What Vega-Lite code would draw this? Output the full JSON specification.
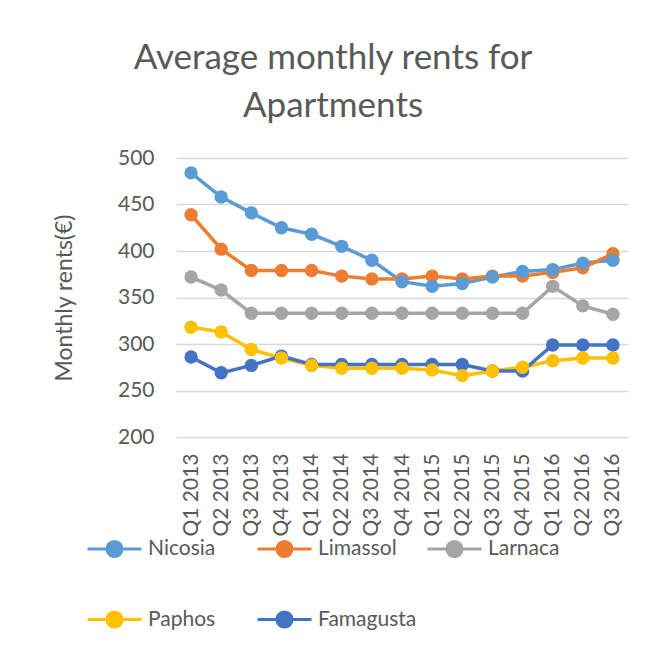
{
  "$schema": "https://vega.github.io/schema/vega-lite/v6.json",
  "autosize": "none",
  "width": 452,
  "height": 279,
  "padding": {"left": 176, "top": 158, "right": 17, "bottom": 208},
  "background": "white",
  "config": {"view": {"stroke": null}},
  "title": {
    "text": ["Average monthly rents for", "Apartments"],
    "fontSize": 35,
    "font": "Lato",
    "fontWeight": "normal",
    "color": "#595959",
    "lineHeight": 48,
    "anchor": "middle",
    "dx": -69,
    "offset": 23
  },
  "data": {
    "values": [
      {"q": "Q1 2013", "city": "Nicosia", "rent": 484},
      {"q": "Q2 2013", "city": "Nicosia", "rent": 458},
      {"q": "Q3 2013", "city": "Nicosia", "rent": 441},
      {"q": "Q4 2013", "city": "Nicosia", "rent": 425},
      {"q": "Q1 2014", "city": "Nicosia", "rent": 418},
      {"q": "Q2 2014", "city": "Nicosia", "rent": 405},
      {"q": "Q3 2014", "city": "Nicosia", "rent": 390},
      {"q": "Q4 2014", "city": "Nicosia", "rent": 367},
      {"q": "Q1 2015", "city": "Nicosia", "rent": 362},
      {"q": "Q2 2015", "city": "Nicosia", "rent": 365},
      {"q": "Q3 2015", "city": "Nicosia", "rent": 372},
      {"q": "Q4 2015", "city": "Nicosia", "rent": 378},
      {"q": "Q1 2016", "city": "Nicosia", "rent": 380},
      {"q": "Q2 2016", "city": "Nicosia", "rent": 387},
      {"q": "Q3 2016", "city": "Nicosia", "rent": 390},
      {"q": "Q1 2013", "city": "Limassol", "rent": 439},
      {"q": "Q2 2013", "city": "Limassol", "rent": 402},
      {"q": "Q3 2013", "city": "Limassol", "rent": 379},
      {"q": "Q4 2013", "city": "Limassol", "rent": 379},
      {"q": "Q1 2014", "city": "Limassol", "rent": 379},
      {"q": "Q2 2014", "city": "Limassol", "rent": 373},
      {"q": "Q3 2014", "city": "Limassol", "rent": 370},
      {"q": "Q4 2014", "city": "Limassol", "rent": 370},
      {"q": "Q1 2015", "city": "Limassol", "rent": 373},
      {"q": "Q2 2015", "city": "Limassol", "rent": 370},
      {"q": "Q3 2015", "city": "Limassol", "rent": 373},
      {"q": "Q4 2015", "city": "Limassol", "rent": 373},
      {"q": "Q1 2016", "city": "Limassol", "rent": 377},
      {"q": "Q2 2016", "city": "Limassol", "rent": 382},
      {"q": "Q3 2016", "city": "Limassol", "rent": 397},
      {"q": "Q1 2013", "city": "Larnaca", "rent": 372},
      {"q": "Q2 2013", "city": "Larnaca", "rent": 358},
      {"q": "Q3 2013", "city": "Larnaca", "rent": 333},
      {"q": "Q4 2013", "city": "Larnaca", "rent": 333},
      {"q": "Q1 2014", "city": "Larnaca", "rent": 333},
      {"q": "Q2 2014", "city": "Larnaca", "rent": 333},
      {"q": "Q3 2014", "city": "Larnaca", "rent": 333},
      {"q": "Q4 2014", "city": "Larnaca", "rent": 333},
      {"q": "Q1 2015", "city": "Larnaca", "rent": 333},
      {"q": "Q2 2015", "city": "Larnaca", "rent": 333},
      {"q": "Q3 2015", "city": "Larnaca", "rent": 333},
      {"q": "Q4 2015", "city": "Larnaca", "rent": 333},
      {"q": "Q1 2016", "city": "Larnaca", "rent": 362},
      {"q": "Q2 2016", "city": "Larnaca", "rent": 341},
      {"q": "Q3 2016", "city": "Larnaca", "rent": 332},
      {"q": "Q1 2013", "city": "Paphos", "rent": 318},
      {"q": "Q2 2013", "city": "Paphos", "rent": 313},
      {"q": "Q3 2013", "city": "Paphos", "rent": 294},
      {"q": "Q4 2013", "city": "Paphos", "rent": 285},
      {"q": "Q1 2014", "city": "Paphos", "rent": 277},
      {"q": "Q2 2014", "city": "Paphos", "rent": 274},
      {"q": "Q3 2014", "city": "Paphos", "rent": 274},
      {"q": "Q4 2014", "city": "Paphos", "rent": 274},
      {"q": "Q1 2015", "city": "Paphos", "rent": 272},
      {"q": "Q2 2015", "city": "Paphos", "rent": 266},
      {"q": "Q3 2015", "city": "Paphos", "rent": 271},
      {"q": "Q4 2015", "city": "Paphos", "rent": 275},
      {"q": "Q1 2016", "city": "Paphos", "rent": 282},
      {"q": "Q2 2016", "city": "Paphos", "rent": 285},
      {"q": "Q3 2016", "city": "Paphos", "rent": 285},
      {"q": "Q1 2013", "city": "Famagusta", "rent": 286},
      {"q": "Q2 2013", "city": "Famagusta", "rent": 269},
      {"q": "Q3 2013", "city": "Famagusta", "rent": 277},
      {"q": "Q4 2013", "city": "Famagusta", "rent": 287},
      {"q": "Q1 2014", "city": "Famagusta", "rent": 278},
      {"q": "Q2 2014", "city": "Famagusta", "rent": 278},
      {"q": "Q3 2014", "city": "Famagusta", "rent": 278},
      {"q": "Q4 2014", "city": "Famagusta", "rent": 278},
      {"q": "Q1 2015", "city": "Famagusta", "rent": 278},
      {"q": "Q2 2015", "city": "Famagusta", "rent": 278},
      {"q": "Q3 2015", "city": "Famagusta", "rent": 271},
      {"q": "Q4 2015", "city": "Famagusta", "rent": 271},
      {"q": "Q1 2016", "city": "Famagusta", "rent": 299},
      {"q": "Q2 2016", "city": "Famagusta", "rent": 299},
      {"q": "Q3 2016", "city": "Famagusta", "rent": 299}
    ]
  },
  "mark": {
    "type": "line",
    "strokeWidth": 3.5,
    "point": {"filled": true, "size": 180, "opacity": 1}
  },
  "encoding": {
    "x": {
      "field": "q",
      "type": "ordinal",
      "sort": null,
      "scale": {"type": "point", "padding": 0.5},
      "axis": {
        "title": null,
        "labelAngle": -90,
        "labelFontSize": 21,
        "labelFont": "Lato",
        "labelColor": "#595959",
        "labelPadding": 16,
        "ticks": false,
        "domain": false,
        "grid": false
      }
    },
    "y": {
      "field": "rent",
      "type": "quantitative",
      "scale": {"domain": [200, 500], "nice": false, "zero": false},
      "axis": {
        "title": "Monthly rents(€)",
        "titleFont": "Lato",
        "titleFontSize": 23,
        "titleFontWeight": "normal",
        "titleColor": "#595959",
        "titlePadding": 41,
        "values": [200, 250, 300, 350, 400, 450, 500],
        "labelFontSize": 21,
        "labelFont": "Lato",
        "labelColor": "#595959",
        "labelPadding": 22,
        "ticks": false,
        "domain": false,
        "gridColor": "#D9D9D9",
        "gridWidth": 1.5
      }
    },
    "color": {
      "field": "city",
      "type": "nominal",
      "scale": {
        "domain": ["Nicosia", "Limassol", "Larnaca", "Paphos", "Famagusta"],
        "range": ["#5B9BD5", "#ED7D31", "#A5A5A5", "#FFC000", "#4472C4"]
      },
      "legend": {
        "title": null,
        "orient": "none",
        "legendX": -90,
        "legendY": 362,
        "columns": 3,
        "direction": "horizontal",
        "gridAlign": "all",
        "columnPadding": 4,
        "rowPadding": 28,
        "labelFont": "Lato",
        "labelFontSize": 21,
        "labelColor": "#595959",
        "labelOffset": 5,
        "symbolType": "M -1 0 L 1 0 M -0.28 0 A 0.28 0.28 0 1 0 0.28 0 A 0.28 0.28 0 1 0 -0.28 0",
        "symbolSize": 2916,
        "symbolStrokeWidth": 3,
        "symbolOpacity": 1
      }
    },
    "order": {"field": "city"}
  }
}
